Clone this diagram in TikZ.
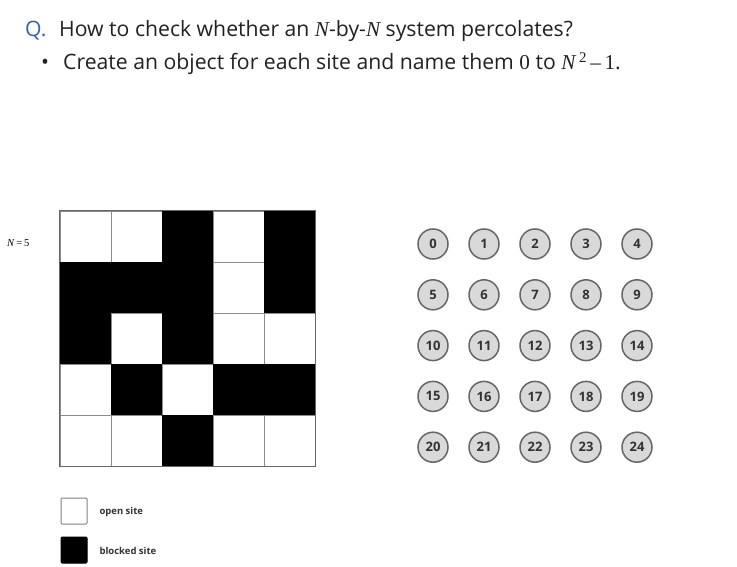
\documentclass[tikz,border=0pt]{standalone}
\usepackage{fontspec}
\setmainfont{Open Sans}
\newfontfamily\tms{Liberation Serif}
\definecolor{qblue}{HTML}{3A62A8}
\definecolor{txt}{HTML}{222222}
\newcommand{\NN}{{\tms\itshape N}}
\begin{document}
\begin{tikzpicture}[x=1pt,y=-1pt,
  cell0/.style={draw=black!45, fill=white, minimum size=51pt, inner sep=0pt, line width=0.6pt},
  sitenode/.style={circle, draw=black!60, fill=black!15, line width=1.5pt, minimum size=30pt, inner sep=0pt,
    font=\fontsize{13}{13}\selectfont\bfseries, text=black!80},
  legbox/.style={draw=black!50, line width=1pt, rounded corners=1pt, minimum size=26pt, inner sep=0pt},
  legtext/.style={anchor=west, font=\fontsize{9.5}{12}\selectfont\bfseries, text=black!80},
  ttl/.style={anchor=base west, inner sep=0pt, text=txt, font=\fontsize{21.2}{25}\selectfont}]
\useasboundingbox[fill=white] (0,0) rectangle (737,567);
% title
\node[ttl, text=qblue] (q) at (25,37) {Q.};
\node[ttl] (title) at (59,37)
  {How to check whether an \NN-by-\NN\ system percolates?};
\node[ttl] (bul) at (41,70) {\textbullet};
\node[ttl] (line2) at (63,70)
  {Create an object for each site and name them {\tms 0} to \NN{\tms\,\textsuperscript{2}\,\char"2013\,1}.};
% N = 5
\node[anchor=west, inner sep=0pt, font=\tms\fontsize{10.5}{12}\selectfont] (nlabel) at (7,243) {\textit{N}\,=\,5};
% grid
\foreach \r in {0,...,4}{
  \foreach \c in {0,...,4}{
    \node[cell0] (cell-\r-\c) at ({85.5+51*\c},{236.5+51*\r}) {};
  }
}
\foreach \r/\c in {0/2,0/4,1/0,1/1,1/2,1/4,2/0,2/2,3/1,3/3,3/4,4/2}{
  \fill[black] (cell-\r-\c.south west) rectangle (cell-\r-\c.north east);
}
\draw[black!60, line width=0.7pt] (cell-0-0.north west) rectangle (cell-4-4.south east);
% sites
\foreach \r in {0,...,4}{
  \foreach \c in {0,...,4}{
    \pgfmathtruncatemacro{\n}{5*\r+\c}
    \node[sitenode] (s\n) at ({433+51*\c},{244+50.8*\r}) {\n};
  }
}
% legend
\node[legbox, fill=white] (openbox) at (74,511) {};
\node[legtext] (opentext) at (96,512) {open site};
\node[legbox, fill=black, draw=black] (blkbox) at (74,550) {};
\node[legtext] (blktext) at (96,551) {blocked site};
\end{tikzpicture}
\end{document}
